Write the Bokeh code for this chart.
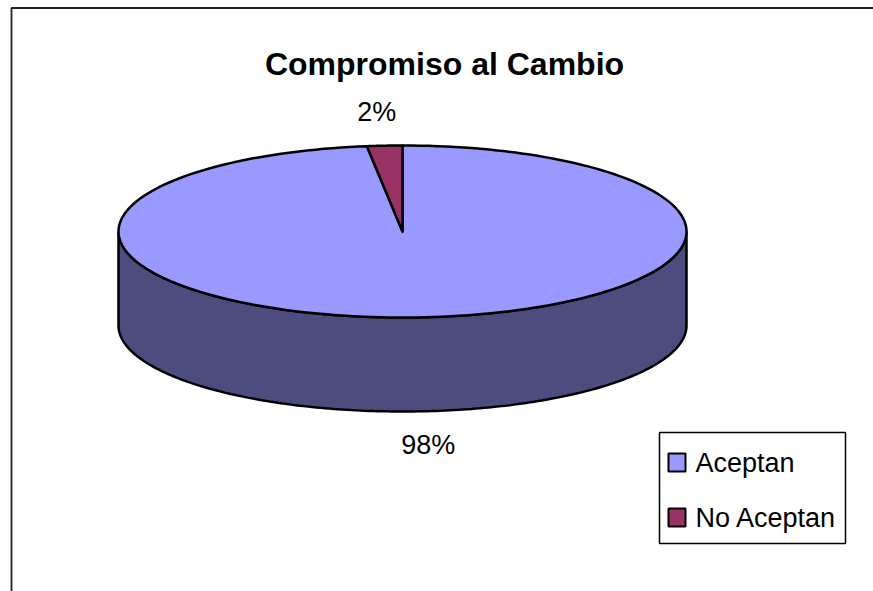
import numpy as np
from bokeh.plotting import figure
from bokeh.models import Range1d
from bokeh.core.properties import value
from bokeh.embed import file_html
from bokeh.resources import INLINE

# ---- data ----
categories = ["Aceptan", "No Aceptan"]
values = [98, 2]
pct_labels = ["98%", "2%"]
top_colors = ["#9999FF", "#993366"]
side_colors = ["#4C4C7E", "#5C1F3D"]
title = "Compromiso al Cambio"

FONT = value("Liberation Sans")

W, H = 873, 591
p = figure(width=W, height=H, output_backend="svg", toolbar_location=None,
           x_range=Range1d(0, W), y_range=Range1d(H, 0),
           min_border=0, background_fill_color="white",
           border_fill_color="white")
p.axis.visible = False
p.grid.visible = False
p.outline_line_color = None

# chart frame
p.line(x=[11, 11, 900], y=[700, 7.5, 7.5], line_color="#222222", line_width=1.8)

# pie geometry (pixel space)
cx, cy, rx, ry, depth = 402, 231, 284, 86, 94
vals = np.array(values, dtype=float)
fr = np.concatenate([[0], np.cumsum(vals) / vals.sum()])

def arc(t0, t1, n=200):
    t = np.linspace(t0, t1, n)
    return cx + rx * np.sin(t), cy - ry * np.cos(t)

# sides (front half: t in [pi/2, 3pi/2])
for i in range(len(vals)):
    t0, t1 = fr[i] * 2 * np.pi, fr[i + 1] * 2 * np.pi
    a, b = max(t0, np.pi / 2), min(t1, 3 * np.pi / 2)
    if b > a:
        xs, ys = arc(a, b)
        px = np.concatenate([xs, xs[::-1]])
        py = np.concatenate([ys, ys[::-1] + depth])
        p.patch(px, py, fill_color=side_colors[i], line_color="black", line_width=2.5)

# top faces
for i in range(len(vals)):
    t0, t1 = fr[i] * 2 * np.pi, fr[i + 1] * 2 * np.pi
    xs, ys = arc(t0, t1)
    px = np.concatenate([[cx], xs, [cx]])
    py = np.concatenate([[cy], ys, [cy]])
    p.patch(px, py, fill_color=top_colors[i], line_color="black", line_width=2.5,
            line_join="round")

# percentage labels
for i in range(len(vals)):
    tm = (fr[i] + fr[i + 1]) * np.pi
    lx = cx + rx * 1.45 * np.sin(tm)
    c = np.cos(tm)
    ly = cy - ry * 1.39 * c + (depth if c < 0 else 0)
    p.text(x=[lx], y=[ly], text=[pct_labels[i]], text_align="center",
           text_baseline="middle", text_font=FONT, text_font_size="27px",
           text_color="black")

# title
p.text(x=[444], y=[63], text=[title], text_align="center", text_baseline="alphabetic",
       text_font=FONT, text_font_size="32px", text_font_style="bold", text_color="black")

# legend
p.quad(left=[659], right=[845], top=[432], bottom=[543], fill_color="white",
       line_color="black", line_width=1.5)
for i, name in enumerate(categories):
    yc = 462 + i * 55
    p.quad(left=[668], right=[685], top=[yc - 9], bottom=[yc + 9],
           fill_color=top_colors[i], line_color="black", line_width=2)
    p.text(x=[695], y=[yc], text=[name], text_align="left", text_baseline="middle",
           text_font=FONT, text_font_size="27px", text_color="black")

open("out.html", "w").write(file_html(p, INLINE))
